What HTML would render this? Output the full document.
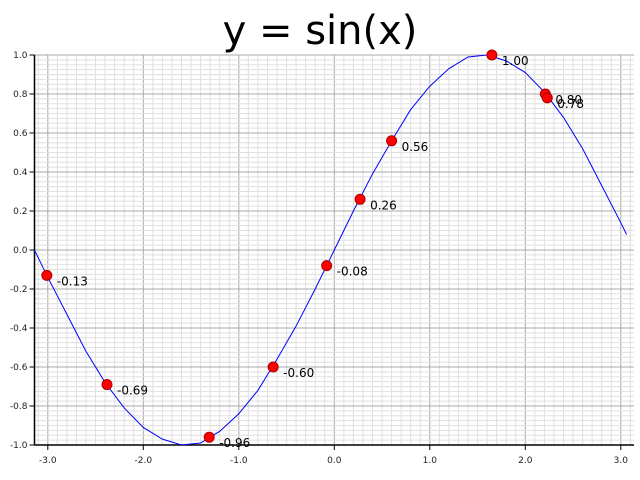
<!DOCTYPE html>
<html><head><meta charset="utf-8"><style>
body{margin:0;background:#fff;}
svg{display:block;font-family:"DejaVu Sans","Liberation Sans",sans-serif;}
</style></head><body>
<svg id="chart" width="640" height="480" viewBox="0 0 640 480">
<text x="320" y="44" text-anchor="middle" font-size="40" fill="#000">y = sin(x)</text>
<g id="grid"></g><g id="axes"></g><g id="series"></g><g id="points"></g>
</svg>
<script>
const curveX=[-3.14,-3.0,-2.8,-2.6,-2.4,-2.2,-2.0,-1.8,-1.6,-1.4,-1.2,-1.0,-0.8,-0.6,-0.4,-0.2,0,0.2,0.4,0.6,0.8,1.0,1.2,1.4,1.6,1.8,2.0,2.2,2.4,2.6,2.8,3.0,3.06];
const curveY=[0.00,-0.14,-0.33,-0.52,-0.68,-0.81,-0.91,-0.97,-1.00,-0.99,-0.93,-0.84,-0.72,-0.56,-0.39,-0.20,0,0.20,0.39,0.56,0.72,0.84,0.93,0.99,1.00,0.97,0.91,0.81,0.68,0.52,0.33,0.14,0.08];
const pointX=[-3.01,-2.38,-1.31,-0.64,-0.08,0.27,0.60,1.65,2.21,2.23];
const pointY=[-0.13,-0.69,-0.96,-0.60,-0.08,0.26,0.56,1.00,0.80,0.78];
const pointLabels=["-0.13","-0.69","-0.96","-0.60","-0.08","0.26","0.56","1.00","0.80","0.78"];
const xTicks=[-3,-2,-1,0,1,2,3];
const xTickLabels=["-3.0","-2.0","-1.0","0.0","1.0","2.0","3.0"];
const yTicks=[-1,-0.8,-0.6,-0.4,-0.2,0,0.2,0.4,0.6,0.8,1];
const yTickLabels=["-1.0","-0.8","-0.6","-0.4","-0.2","0.0","0.2","0.4","0.6","0.8","1.0"];
const NS="http://www.w3.org/2000/svg";
const L=34.5,R=634,T=55,B=445;
const sx=v=>334.3+v*95.5;
const sy=v=>250-v*195;
function mk(tag,attrs,parent){const e=document.createElementNS(NS,tag);for(const k in attrs)e.setAttribute(k,attrs[k]);parent.appendChild(e);return e;}
const grid=document.getElementById('grid'),axes=document.getElementById('axes'),series=document.getElementById('series'),pts=document.getElementById('points');
for(let i=-32;i<=32;i++){const x=sx(i/10);if(x<L||x>R)continue;
 const ln=mk('line',{x1:x,x2:x,y1:T,y2:B,stroke:i%10===0?'#a8a8a8':'#e0e0e0','stroke-width':1},grid);
 
 }
for(let i=-40;i<=40;i++){const y=sy(i/40);
 const ln=mk('line',{x1:L,x2:R,y1:y,y2:y,stroke:i%8===0?'#a8a8a8':'#e0e0e0','stroke-width':1},grid);
 
 }
const ya=mk('line',{x1:L,x2:L,y1:T,y2:B,stroke:'#000','stroke-width':1.5},axes);


const xa=mk('line',{x1:L,x2:R,y1:B,y2:B,stroke:'#000','stroke-width':1.5},axes);


xTicks.forEach((v,i)=>{const x=sx(v);
 mk('line',{x1:x,x2:x,y1:B,y2:B+5,stroke:'#000'},axes);
 const t=mk('text',{x:x,y:B+18,'text-anchor':'middle','font-size':9,fill:'#222'},axes);t.textContent=xTickLabels[i];
 
 });
yTicks.forEach((v,i)=>{const y=sy(v);
 mk('line',{x1:L-5,x2:L,y1:y,y2:y,stroke:'#000'},axes);
 const t=mk('text',{x:L-7,y:y+3,'text-anchor':'end','font-size':9,fill:'#222'},axes);t.textContent=yTickLabels[i];
 
 });
const path=mk('polyline',{points:curveX.map((x,i)=>sx(x)+','+sy(curveY[i])).join(' '),fill:'none',stroke:'#00f','stroke-width':1},series);


pointX.forEach((x,i)=>{
 const c=mk('circle',{cx:sx(x),cy:sy(pointY[i]),r:5,fill:'#f00',stroke:'#a00','stroke-width':1},pts);
 
 
 const t=mk('text',{x:sx(x)+10,y:sy(pointY[i])+10,'font-size':12,fill:'#000'},pts);t.textContent=pointLabels[i];
 
 });
</script>
</body></html>
